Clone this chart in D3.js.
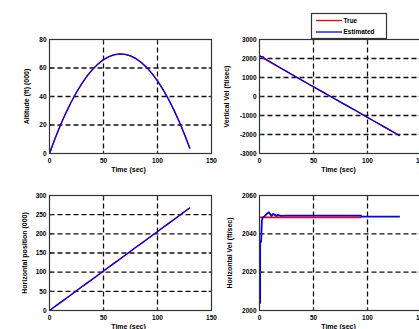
<!DOCTYPE html>
<html>
<head>
<meta charset="utf-8">
<script src="https://cdn.jsdelivr.net/npm/d3@7"></script>
<style>
  body { margin: 0; background: #fff; }
  svg { display: block; }
  .lbl { font-family: "Liberation Sans", Arial, sans-serif; font-weight: bold; fill: #000; }
</style>
</head>
<body>
<script>
// time samples (sec)
const timeSec = [0,5,10,15,20,25,30,35,40,45,50,55,60,65,70,75,80,85,90,95,100,105,110,115,120,125,130];

// altitude (ft, 000)
const altTrue = [0,10.20,19.59,28.18,35.96,42.94,49.11,54.48,59.04,62.80,65.75,67.90,69.24,69.78,69.51,68.44,66.56,63.88,60.39,56.10,51.00,45.10,38.39,30.88,22.56,13.44,3.51];
const altEst  = [0,10.30,19.70,28.30,36.00,43.00,49.20,54.60,59.20,62.90,65.90,68.00,69.40,69.90,69.60,68.50,66.60,63.90,60.40,56.00,50.90,45.00,38.30,30.80,22.50,13.40,3.50];

// vertical velocity (ft/sec)
const vvelTrue = [2120,1959,1798,1637,1476,1315,1154,993,832,671,510,349,188,27,-134,-295,-456,-617,-778,-939,-1100,-1261,-1422,-1583,-1744,-1905,-2066];
const vvelEstTime = [0,1.5,3,5,10,15,20,25,30,35,40,45,50,55,60,65,70,75,80,85,90,95,100,105,110,115,120,125,130];
const vvelEst = [2160,2090,2110,1990,1830,1660,1488,1320,1158,995,833,670,512,350,188,28,-132,-295,-455,-612,-765,-936,-1100,-1261,-1422,-1583,-1744,-1905,-2066];

// horizontal position (ft, 000)
const hposTrue = [0,10.3,20.6,30.9,41.2,51.5,61.8,72.1,82.4,92.7,103.0,113.3,123.6,133.9,144.2,154.5,164.8,175.1,185.4,195.7,206.0,216.3,226.6,236.9,247.2,257.5,267.8];
const hposEst  = [0,10.2,20.6,30.9,41.1,51.5,61.8,72.0,82.4,92.7,102.9,113.3,123.6,133.9,144.1,154.5,164.8,175.0,185.4,195.7,205.6,216.3,226.6,236.9,247.2,257.5,267.8];

// horizontal velocity (ft/sec)
const hvelTrueTime = [0, 94];
const hvelTrue = [2048.6, 2048.6];
const hvelEstTime = [0,0.6,0.6,1.5,2.2,3,4.5,6,7.5,8.7,10,11,12.5,14,15.6,17,20,25,40,60,80,94,94.5,110,130];
const hvelEst = [2004,2004,2036,2036,2046.8,2048.5,2049,2050,2050.8,2051.2,2050.2,2049.4,2050.3,2050,2049.3,2049.8,2049.4,2049.5,2049.5,2049.5,2049.5,2049.5,2049,2049,2049];

// ticks
const xTicks = [0, 50, 100, 150];
const altTicks = [0, 20, 40, 60, 80];
const vvelTicks = [-3000, -2000, -1000, 0, 1000, 2000, 3000];
const hposTicks = [0, 50, 100, 150, 200, 250, 300];
const hvelTicks = [2000, 2020, 2040, 2060];

const legendNames = ["True", "Estimated"];
const colors = ["#ff0000", "#0000ff"];

const W = 419, H = 329;
const svg = d3.select("body").append("svg").attr("width", W).attr("height", H);
svg.append("rect").attr("width", W).attr("height", H).attr("fill", "#fff");

function panel(cfg) {
  let x = d3.scaleLinear().domain([0, 150]).range([cfg.left, cfg.right]);
  let y = d3.scaleLinear().domain(d3.extent(cfg.yTicks)).range([cfg.bottom, cfg.top]);
  let g = svg.append("g");

  // grid
  g.selectAll(".gx").data(xTicks.slice(1, -1)).enter().append("line")
    .attr("x1", d => x(d)).attr("x2", d => x(d))
    .attr("y1", cfg.top).attr("y2", cfg.bottom)
    .attr("stroke", "#111").attr("stroke-width", 1.3).attr("stroke-dasharray", "5,3");
  g.selectAll(".gy").data(cfg.yTicks.slice(1, -1)).enter().append("line")
    .attr("x1", cfg.left).attr("x2", cfg.right)
    .attr("y1", d => y(d)).attr("y2", d => y(d))
    .attr("stroke", "#111").attr("stroke-width", 1.3).attr("stroke-dasharray", "5,3");

  // data
  let line = d3.line().x(d => x(d[0])).y(d => y(d[1]));
  cfg.series.forEach(s => {
    g.append("path")
      .datum(d3.zip(s.t, s.v))
      .attr("d", line)
      .attr("fill", "none")
      .attr("stroke", s.color)
      .attr("stroke-width", s.w || 1.3);
  });

  // box
  g.append("rect")
    .attr("x", cfg.left).attr("y", cfg.top)
    .attr("width", cfg.right - cfg.left).attr("height", cfg.bottom - cfg.top)
    .attr("fill", "none").attr("stroke", "#333").attr("stroke-width", 1.2);

  // inward ticks
  xTicks.forEach(d => {
    g.append("line").attr("x1", x(d)).attr("x2", x(d)).attr("y1", cfg.bottom).attr("y2", cfg.bottom - 3).attr("stroke", "#333");
    g.append("line").attr("x1", x(d)).attr("x2", x(d)).attr("y1", cfg.top).attr("y2", cfg.top + 3).attr("stroke", "#333");
  });
  cfg.yTicks.forEach(d => {
    g.append("line").attr("x1", cfg.left).attr("x2", cfg.left + 3).attr("y1", y(d)).attr("y2", y(d)).attr("stroke", "#333");
    g.append("line").attr("x1", cfg.right).attr("x2", cfg.right - 3).attr("y1", y(d)).attr("y2", y(d)).attr("stroke", "#333");
  });

  // tick labels
  g.selectAll(".xl").data(xTicks).enter().append("text")
    .attr("class", "lbl").attr("font-size", 6.5)
    .attr("x", d => x(d)).attr("y", cfg.bottom + 9)
    .attr("text-anchor", "middle").text(d => d);
  g.selectAll(".yl").data(cfg.yTicks).enter().append("text")
    .attr("class", "lbl").attr("font-size", 6.5)
    .attr("x", cfg.left - 3).attr("y", d => y(d) + 2.3)
    .attr("text-anchor", "end").text(d => d);

  // axis titles
  g.append("text").attr("class", "lbl").attr("font-size", 7)
    .attr("x", (cfg.left + cfg.right) / 2 - 2).attr("y", cfg.bottom + 18.5)
    .attr("text-anchor", "middle").text("Time (sec)");
  g.append("text").attr("class", "lbl").attr("font-size", 7)
    .attr("transform", "translate(" + (cfg.left - cfg.ylOff) + "," + ((cfg.top + cfg.bottom) / 2) + ") rotate(-90)")
    .attr("text-anchor", "middle").text(cfg.yLabel);
}

panel({ left: 49.5, right: 211.5, top: 39.5, bottom: 153.5, yTicks: altTicks, ylOff: 21,
  yLabel: "Altitude (ft) (000)",
  series: [{ t: timeSec, v: altTrue, color: colors[0] }, { t: timeSec, v: altEst, color: colors[1] }] });

panel({ left: 259.5, right: 421.5, top: 39.5, bottom: 153.5, yTicks: vvelTicks, ylOff: 31,
  yLabel: "Vertical Vel (ft/sec)",
  series: [{ t: timeSec, v: vvelTrue, color: colors[0] }, { t: vvelEstTime, v: vvelEst, color: colors[1] }] });

panel({ left: 49.5, right: 211.5, top: 195.5, bottom: 310.5, yTicks: hposTicks, ylOff: 23,
  yLabel: "Horizontal position (000)",
  series: [{ t: timeSec, v: hposTrue, color: colors[0] }, { t: timeSec, v: hposEst, color: colors[1] }] });

panel({ left: 259.5, right: 421.5, top: 195.5, bottom: 310.5, yTicks: hvelTicks, ylOff: 28,
  yLabel: "Horizontal Vel (ft/sec)",
  series: [{ t: hvelTrueTime, v: hvelTrue, color: colors[0], w: 1.8 }, { t: hvelEstTime, v: hvelEst, color: colors[1], w: 1.8 }] });

// legend
let lg = svg.append("g");
lg.append("rect").attr("x", 311.5).attr("y", 13.5).attr("width", 75).attr("height", 25)
  .attr("fill", "#fff").attr("stroke", "#333").attr("stroke-width", 1.2);
legendNames.forEach((name, i) => {
  let yy = 20.5 + i * 11.5;
  lg.append("line").attr("x1", 316).attr("x2", 342).attr("y1", yy).attr("y2", yy)
    .attr("stroke", colors[i]).attr("stroke-width", 1.3);
  lg.append("text").attr("class", "lbl").attr("font-size", 6.5)
    .attr("x", 343.5).attr("y", yy + 2.3).text(name);
});
</script>
</body>
</html>
